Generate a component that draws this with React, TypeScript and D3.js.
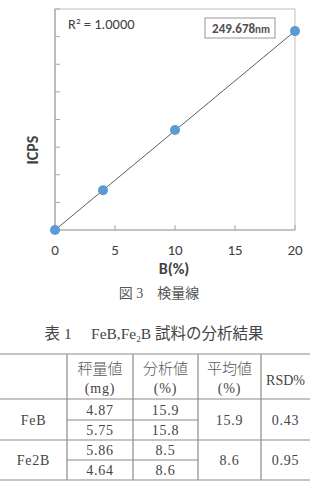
import React from "react";
import * as d3 from "d3";

const concX = [0, 4, 10, 20];
const icps = [0, 1.44, 3.62, 7.2];
const xTicks = [0, 5, 10, 15, 20];
const yTicks = [0, 1, 2, 3, 4, 5, 6, 7, 8];
const trend = [[0, 0], [20, 7.2]];

const headers = [["", ""], ["秤量値", "(mg)"], ["分析値", "(%)"], ["平均値", "(%)"], ["RSD%", ""]];
const samples = ["FeB", "Fe2B"];
const weights = [["4.87", "5.75"], ["5.86", "4.64"]];
const analyzed = [["15.9", "15.8"], ["8.5", "8.6"]];
const means = ["15.9", "8.6"];
const rsd = ["0.43", "0.95"];

export default function App() {
  const W = 310, H = 486;
  const x = d3.scaleLinear().domain([0, 20]).range([55, 295]);
  const y = d3.scaleLinear().domain([0, 8]).range([230, 9]);
  const line = d3.line<number[]>().x(d => x(d[0])).y(d => y(d[1]));
  const sans = "Carlito, Lato, 'Open Sans', sans-serif";
  const serif = "'Liberation Serif', 'DejaVu Serif', 'Noto Sans CJK JP', serif";

  // table geometry
  const colX = d3.scaleOrdinal<number, number>().domain([0, 1, 2, 3, 4, 5]).range([0, 67, 133, 198, 261, 310]);
  const rowY = [354, 399, 420, 440, 460, 480];
  const grid = "#8a8a8a";
  const tc = "#444";
  const fs = 14;
  const ls = 0.8;
  const cx = (i: number) => (colX(i) + colX(i + 1)) / 2;

  return (
    <svg width={W} height={H} style={{ position: "absolute", left: 0, top: 0, background: "#fff" }}>
      {/* plot frame */}
      <rect x={x(0)} y={y(8)} width={x(20) - x(0)} height={y(0) - y(8)} fill="none" stroke="#bfbfbf" strokeWidth={1} />
      <line x1={x(0)} x2={x(20)} y1={y(0)} y2={y(0)} stroke="#a6a6a6" strokeWidth={1.2} />
      <line x1={x(0)} x2={x(0)} y1={y(0)} y2={y(8)} stroke="#a6a6a6" strokeWidth={1.2} />
      {yTicks.map(t => (
        <line key={"yt" + t} x1={x(0)} x2={x(0) + 5} y1={y(t)} y2={y(t)} stroke="#a6a6a6" />
      ))}
      {xTicks.map(t => (
        <line key={"xt" + t} x1={x(t)} x2={x(t)} y1={y(0)} y2={y(0) - 5} stroke="#a6a6a6" />
      ))}
      {xTicks.map(t => (
        <text key={"xl" + t} x={x(t)} y={y(0) + 25} textAnchor="middle" fontFamily={sans} fontSize={15} fill="#404040">{t}</text>
      ))}
      <text x={x(10) - 1} y={274} textAnchor="middle" fontFamily={sans} fontSize={16} fontWeight="bold" fill="#404040">B(%)</text>
      <text transform="translate(38,150) rotate(-90)" textAnchor="middle" fontFamily={sans} fontSize={16} fontWeight="bold" fill="#404040">ICPS</text>

      <path d={line(trend as number[][]) || ""} stroke="#333" strokeWidth={0.8} fill="none" />
      {concX.map((c, i) => (
        <circle key={"p" + i} cx={x(c)} cy={y(icps[i])} r={5} fill="#5b9bd5" />
      ))}

      <text x={68} y={29} fontFamily={sans} fontSize={14.5} fill="#404040">
        R<tspan fontSize={9} dy={-5}>2</tspan><tspan dy={5}> = 1.0000</tspan>
      </text>
      <rect x={205} y={18} width={70} height={20} fill="#fff" stroke="#7f7f7f" strokeWidth={0.8} />
      <text x={241} y={33} textAnchor="middle" fontFamily={sans} fontSize={13} fontWeight="bold" fill="#505050">
        249.678<tspan fontSize={11}>nm</tspan>
      </text>

      {/* caption */}
      <text x={159} y={298} textAnchor="middle" fontFamily={serif} fontSize={14} fill="#555">図 3　検量線</text>
      <text x={154} y={339} textAnchor="middle" fontFamily={serif} fontSize={15.5} fill="#444">
        表 1　  FeB,Fe<tspan fontSize={9} dy={3}>2</tspan><tspan dy={-3}>B 試料の分析結果</tspan>
      </text>

      {/* table grid */}
      <line x1={0} x2={310} y1={rowY[0]} y2={rowY[0]} stroke={grid} strokeWidth={1.2} />
      <line x1={0} x2={310} y1={rowY[1]} y2={rowY[1]} stroke={grid} strokeWidth={1.2} />
      <line x1={0} x2={310} y1={rowY[3]} y2={rowY[3]} stroke={grid} strokeWidth={1.2} />
      <line x1={0} x2={310} y1={rowY[5]} y2={rowY[5]} stroke={grid} strokeWidth={1.2} />
      <line x1={colX(1)} x2={colX(3)} y1={rowY[2]} y2={rowY[2]} stroke={grid} strokeWidth={1.2} />
      <line x1={colX(1)} x2={colX(3)} y1={rowY[4]} y2={rowY[4]} stroke={grid} strokeWidth={1.2} />
      {[1, 2, 3, 4].map(i => (
        <line key={"c" + i} x1={colX(i)} x2={colX(i)} y1={rowY[0]} y2={rowY[5]} stroke={grid} strokeWidth={1.2} />
      ))}

      {/* header */}
      {headers.map((h, i) =>
        h[1] ? (
          <g key={"h" + i}>
            <text x={cx(i)} y={374} textAnchor="middle" fontFamily={serif} fontSize={15} fontWeight={300} fill="#555">{h[0]}</text>
            <text x={cx(i)} y={393} textAnchor="middle" fontFamily={serif} fontSize={fs} letterSpacing={ls} fill={tc}>{h[1]}</text>
          </g>
        ) : (
          <text key={"h" + i} x={cx(i)} y={385} textAnchor="middle" fontFamily={serif} fontSize={fs} fill={tc}>{h[0]}</text>
        )
      )}

      {/* body */}
      {samples.map((s, g) => {
        const top = rowY[1 + g * 2];
        const mid = rowY[2 + g * 2];
        const bot = rowY[3 + g * 2];
        return (
          <g key={"s" + g}>
            <text x={cx(0)} y={(top + bot) / 2 + 5} textAnchor="middle" fontFamily={serif} fontSize={fs} letterSpacing={ls} fill={tc}>{s}</text>
            {[0, 1].map(r => {
              const yy = r === 0 ? (top + mid) / 2 + 5 : (mid + bot) / 2 + 5;
              return (
                <g key={"r" + r}>
                  <text x={cx(1)} y={yy} textAnchor="middle" fontFamily={serif} fontSize={fs} letterSpacing={ls} fill={tc}>{weights[g][r]}</text>
                  <text x={cx(2)} y={yy} textAnchor="middle" fontFamily={serif} fontSize={fs} letterSpacing={ls} fill={tc}>{analyzed[g][r]}</text>
                </g>
              );
            })}
            <text x={cx(3)} y={(top + bot) / 2 + 5} textAnchor="middle" fontFamily={serif} fontSize={fs} letterSpacing={ls} fill={tc}>{means[g]}</text>
            <text x={cx(4)} y={(top + bot) / 2 + 5} textAnchor="middle" fontFamily={serif} fontSize={fs} letterSpacing={ls} fill={tc}>{rsd[g]}</text>
          </g>
        );
      })}
    </svg>
  );
}
